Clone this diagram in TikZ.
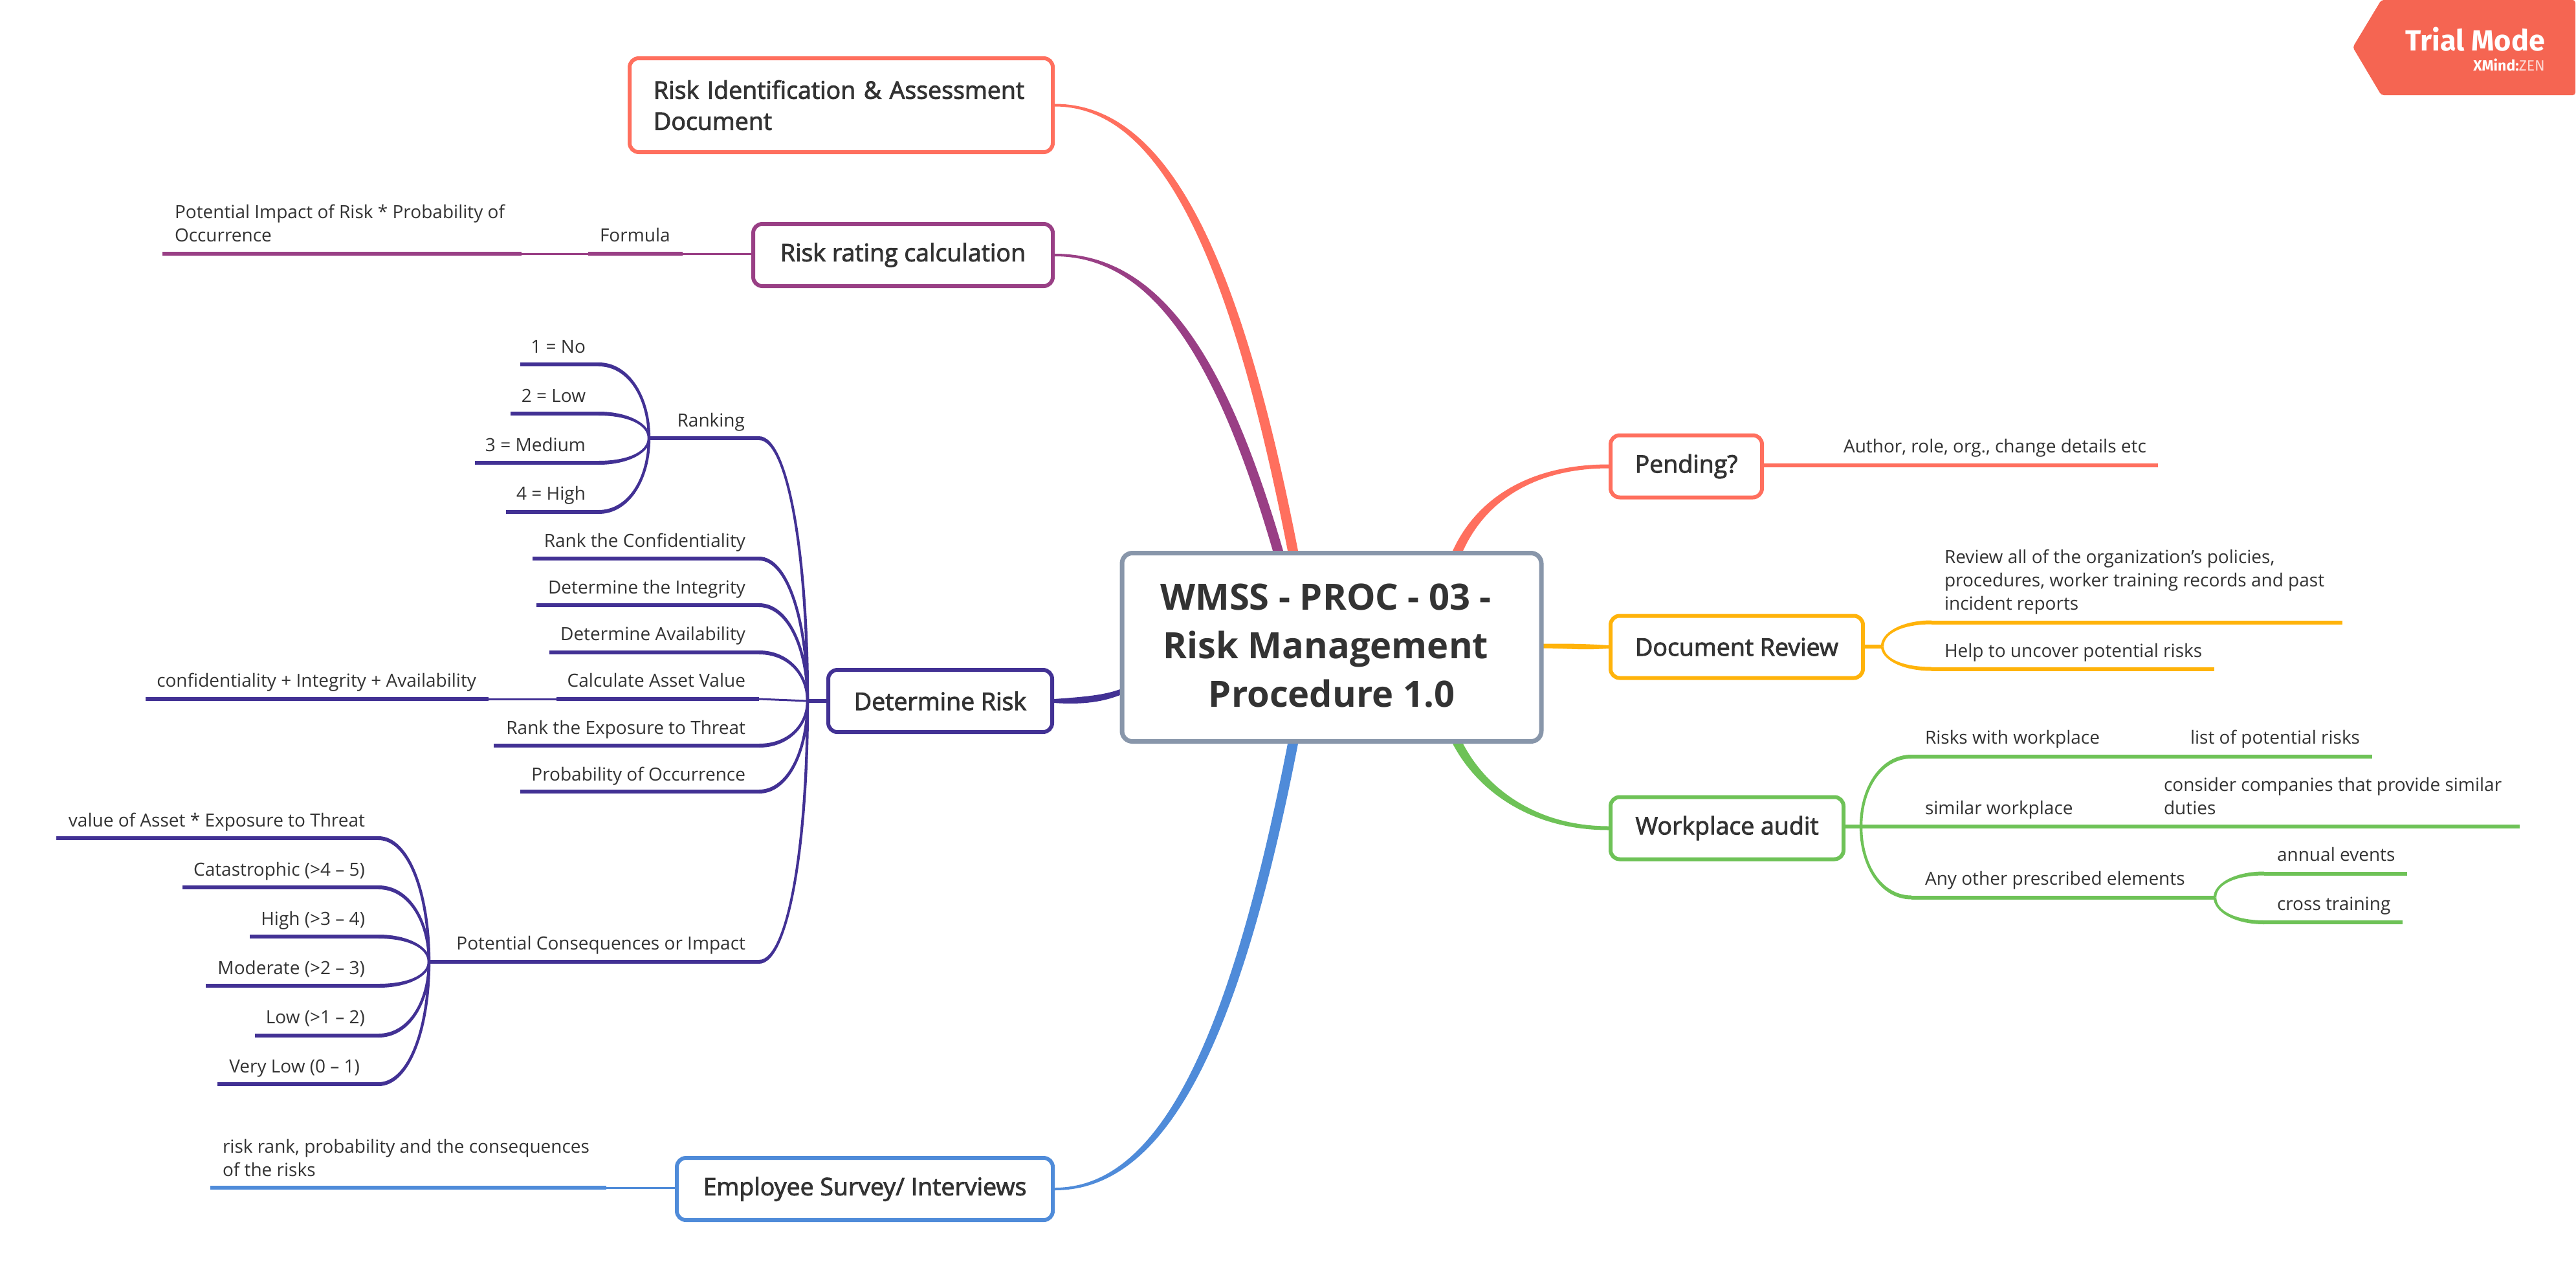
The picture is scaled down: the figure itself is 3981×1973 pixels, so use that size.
\documentclass[tikz,border=0pt]{standalone}
\usepackage{fontspec}
\setmainfont{Open Sans}
\newfontfamily\semi[FakeBold=2.5]{Open Sans}
\newfontfamily\badge{Fira Sans}
\usetikzlibrary{calc,backgrounds}
\definecolor{coral}{HTML}{FF6F5E}
\definecolor{plum}{HTML}{993F85}
\definecolor{navy}{HTML}{423194}
\definecolor{amber}{HTML}{FFB30A}
\definecolor{leafg}{HTML}{6EC257}
\definecolor{skyb}{HTML}{4F8BD9}
\definecolor{slate}{HTML}{8896AA}
\definecolor{ink}{HTML}{333333}
\definecolor{badgec}{HTML}{F56552}
\tikzset{
  leaftext/.style={inner sep=0pt,outer sep=0pt,text=ink,font=\fontsize{28}{36}\selectfont,align=left},
  branchbox/.style={draw=#1,line width=6pt,fill=white,rounded corners=14pt,inner sep=0pt,minimum height=96pt,text=ink,font=\semi\fontsize{37.5}{48}\selectfont},
  rootbox/.style={draw=slate,line width=7pt,fill=white,rounded corners=16pt,inner sep=0pt},
  thick line/.style={draw=#1,line width=6pt},
  thin line/.style={draw=#1,line width=3pt}
}
% A, C1, C2, B, half width at A, offset at B
\newcommand\taper[6]{\fill[\cc] ($(#1)+(0,#5)$) .. controls ($(#2)+(0,#5)+0.8*(#6)$) and ($(#3)+(#6)$) .. ($(#4)+(#6)$) -- ($(#4)-(#6)$) .. controls ($(#3)-(#6)$) and ($(#2)-(0,#5)-0.8*(#6)$) .. ($(#1)-(0,#5)$) -- cycle;}
\newcommand\forkc[3]{\coordinate (cA) at ($(#1)!.6!(#2|-#1)$);\coordinate (cB) at ($(#2)!.55!(#2|-#1)$);\taper{#1}{cA}{cB}{#2}{3}{#3,0}}
% name, left x, right x, y
\newcommand\under[4]{\coordinate (#1l) at (#2,#4);\coordinate (#1r) at (#3,#4);\draw[thick line=\cc] (#1l) -- (#1r);}
% name, right x, baseline of the last line, text
\newcommand\labR[4]{\node[leaftext,anchor=base east] (#1) at (#2,#3) {#4};}
\newcommand\labL[4]{\node[leaftext,anchor=base west] (#1) at (#2,#3) {#4};}
\begin{document}
\begin{tikzpicture}[x=1pt,y=-1pt]
\useasboundingbox (0,0) rectangle (3981,1973);
% ---- topic boxes
\node[rootbox,minimum width=648pt,minimum height=291pt] (root) at (2058,1000) {};
\node[inner sep=0pt,text=ink,font=\bfseries\fontsize{56}{75}\selectfont,align=center] (roott) at (2058,997.5) {\mbox{WMSS - PROC - 03 -\rule{18pt}{0pt}}\\\mbox{Risk Management\rule{18pt}{0pt}}\\Procedure 1.0};
\node[branchbox=coral,minimum width=654pt,minimum height=145pt,text width=580pt,align=left] (ri) at (1300,162.5) {Risk Identification \& Assessment Document};
\node[branchbox=plum,minimum width=463pt] (rr) at (1395.5,394) {Risk rating calculation};
\node[branchbox=navy,minimum width=346pt] (dr) at (1453,1083) {Determine Risk};
\node[branchbox=skyb,minimum width=581pt] (es) at (1336.5,1837) {Employee Survey/ Interviews};
\node[branchbox=coral,minimum width=234pt] (pe) at (2606,720.5) {Pending?};
\node[branchbox=amber,minimum width=390pt] (dc) at (2684,999.5) {Document Review};
\node[branchbox=leafg,minimum width=360pt] (wp) at (2669,1279.5) {Workplace audit};
% ---- main connectors
\begin{scope}[on background layer]
\coordinate (rootRI) at ($(root.north)+(-60,0)$);
\coordinate (rootRR) at ($(root.north)+(-83,0)$);
\coordinate (rootES) at ($(root.south)+(-60,0)$);
\coordinate (rootPE) at ($(root.north)+(195,0)$);
\coordinate (rootWP) at ($(root.south)+(195,0)$);
\coordinate (rootDR) at ($(root.west)+(4,68)$);
\coordinate (rootDC) at ($(root.east)+(-4,-2)$);
\def\cc{coral}
\taper{ri.east}{1800,162.5}{1910,400}{rootRI}{2}{-8,0}
\def\cc{plum}
\taper{rr.east}{1790,394}{1890,560}{rootRR}{2}{-8,0}
\def\cc{skyb}
\taper{es.east}{1800,1837}{1910,1600}{rootES}{2}{8,0}
\def\cc{coral}
\taper{pe.west}{2370,720.5}{2290,770}{rootPE}{3}{8,0}
\def\cc{leafg}
\taper{wp.west}{2370,1279.5}{2290,1220}{rootWP}{3}{-8,0}
\def\cc{amber}
\taper{dc.west}{2440,999.5}{2420,998}{rootDC}{2.5}{0,3.5}
\def\cc{navy}
\taper{dr.east}{1680,1083}{1710,1078}{rootDR}{3}{0,4.5}
\end{scope}
% ---- Risk rating
\def\cc{plum}
\under{pi}{251}{806}{392}
\under{fo}{909}{1055}{392}
\draw[thin line=plum] (pir) -- (fol);
\draw[thin line=plum] (for) -- (rr.west|-for);
\labL{pit}{270}{373}{Potential Impact of Risk * Probability of\\Occurrence}
\labL{fot}{927}{373}{Formula}
% ---- Employee survey
\def\cc{skyb}
\under{rk}{325}{937}{1835}
\draw[thin line=skyb] (rkr) -- (es.west|-rkr);
\labL{rkt}{344}{1817}{risk rank, probability and the consequences\\of the risks}
% ---- Determine Risk
\def\cc{navy}
\coordinate (fd) at ($(dr.west)+(-29,0)$);
\draw[thick line=navy] (dr.west) -- (fd);
\coordinate (frank) at (1003,677);
\coordinate (fpot) at (663,1486);
\under{ra}{1003}{1173}{677}
\labR{rat}{1151}{659}{Ranking}
\forkc{rar}{fd}{-2.2}
\under{n1}{804}{925}{563}\labR{n1t}{905}{545}{1 = No}\forkc{n1r}{frank}{-2.2}
\under{n2}{789}{925}{639}\labR{n2t}{905}{621}{2 = Low}\forkc{n2r}{frank}{-2.2}
\under{n3}{734}{925}{715}\labR{n3t}{905}{697}{3 = Medium}\forkc{n3r}{frank}{2.2}
\under{n4}{782}{925}{791}\labR{n4t}{905}{772}{4 = High}\forkc{n4r}{frank}{2.2}
\under{c1}{823}{1173}{863}\labR{c1t}{1152}{845}{Rank the Confidentiality}\forkc{c1r}{fd}{-2.2}
\under{c2}{829}{1173}{935}\labR{c2t}{1152}{917}{Determine the Integrity}\forkc{c2r}{fd}{-2.2}
\under{c3}{849}{1173}{1008}\labR{c3t}{1152}{989}{Determine Availability}\forkc{c3r}{fd}{-2.2}
\under{c4}{860}{1173}{1080}\labR{c4t}{1152}{1061}{Calculate Asset Value}
\draw[thin line=navy] (c4r) -- (fd);
\under{c5}{225}{755}{1080}\labR{c5t}{736}{1061}{confidentiality + Integrity + Availability}
\draw[thin line=navy] (c5r) -- (c4l);
\under{c6}{763}{1173}{1152}\labR{c6t}{1152}{1134}{Rank the Exposure to Threat}\forkc{c6r}{fd}{2.2}
\under{c7}{804}{1173}{1223}\labR{c7t}{1152}{1206}{Probability of Occurrence}\forkc{c7r}{fd}{2.2}
\under{po}{663}{1173}{1486}\labR{pot}{1152}{1467}{Potential Consequences or Impact}\forkc{por}{fd}{2.2}
\under{v1}{87}{585}{1295}\labR{v1t}{564}{1277}{value of Asset * Exposure to Threat}\forkc{v1r}{fpot}{-2.2}
\under{v2}{282}{585}{1371}\labR{v2t}{564}{1353}{Catastrophic (>4 – 5)}\forkc{v2r}{fpot}{-2.2}
\under{v3}{386}{585}{1447}\labR{v3t}{564}{1429}{High (>3 – 4)}\forkc{v3r}{fpot}{-2.2}
\under{v4}{318}{585}{1523}\labR{v4t}{564}{1505}{Moderate (>2 – 3)}\forkc{v4r}{fpot}{2.2}
\under{v5}{394}{585}{1600}\labR{v5t}{564}{1581}{Low (>1 – 2)}\forkc{v5r}{fpot}{2.2}
\under{v6}{336}{585}{1675}\labR{v6t}{556}{1657}{Very Low (0 – 1)}\forkc{v6r}{fpot}{2.2}
% ---- Pending
\def\cc{coral}
\coordinate (pee) at (3335,719);
\draw[thick line=coral] (pe.east|-pee) -- (pee);
\labL{pet}{2849}{699}{Author, role, org., change details etc}
% ---- Document review
\def\cc{amber}
\coordinate (fdoc) at ($(dc.east)+(27,-1)$);
\draw[thick line=amber] (dc.east|-fdoc) -- (fdoc);
\under{d1}{2985}{3620}{961.5}\labL{d1t}{3005}{942}{Review all of the organization’s policies,\\procedures, worker training records and past\\incident reports}\forkc{d1l}{fdoc}{2.2}
\under{d2}{2985}{3422}{1033.5}\labL{d2t}{3005}{1015}{Help to uncover potential risks}\forkc{d2l}{fdoc}{-2.2}
% ---- Workplace audit
\def\cc{leafg}
\coordinate (fwp) at ($(wp.east)+(24,-2.5)$);
\draw[thick line=leafg] (wp.east|-fwp) -- (fwp);
\coordinate (fany) at (3423,1386.5);
\under{w1}{2954}{3666}{1169}\labL{w1t}{2975}{1149}{Risks with workplace}\forkc{w1l}{fwp}{2.2}
\labL{w1u}{3385}{1149}{list of potential risks}
\under{w2}{2876}{3894}{1277}\labL{w2t}{2975}{1258}{similar workplace}
\labL{w2u}{3344}{1258}{consider companies that provide similar\\duties}
\under{w3}{2954}{3423}{1386.5}\labL{w3t}{2975}{1367}{Any other prescribed elements}\forkc{w3l}{fwp}{-2.2}
\under{w4}{3499}{3720}{1349.5}\labL{w4t}{3519}{1330}{annual events}\forkc{w4l}{fany}{2.2}
\under{w5}{3499}{3713}{1425}\labL{w5t}{3519}{1406}{cross training}\forkc{w5l}{fany}{-2.2}
% ---- badge
\fill[badgec,rounded corners=4pt] (3636,73) -- (3680,0) -- (3980,0) -- (3980,147) -- (3680,147) -- cycle;
\node[inner sep=0pt,anchor=base east,text=white,font=\badge\bfseries\fontsize{45}{50}\selectfont] (tm) at (3933,78) {Trial Mode};
\node[inner sep=0pt,anchor=base east,text=white,font=\badge\fontsize{23}{25}\selectfont] (xm) at (3933,109) {\textbf{XMind:}\textcolor{white!75!badgec}{ZEN}};
\end{tikzpicture}
\end{document}
